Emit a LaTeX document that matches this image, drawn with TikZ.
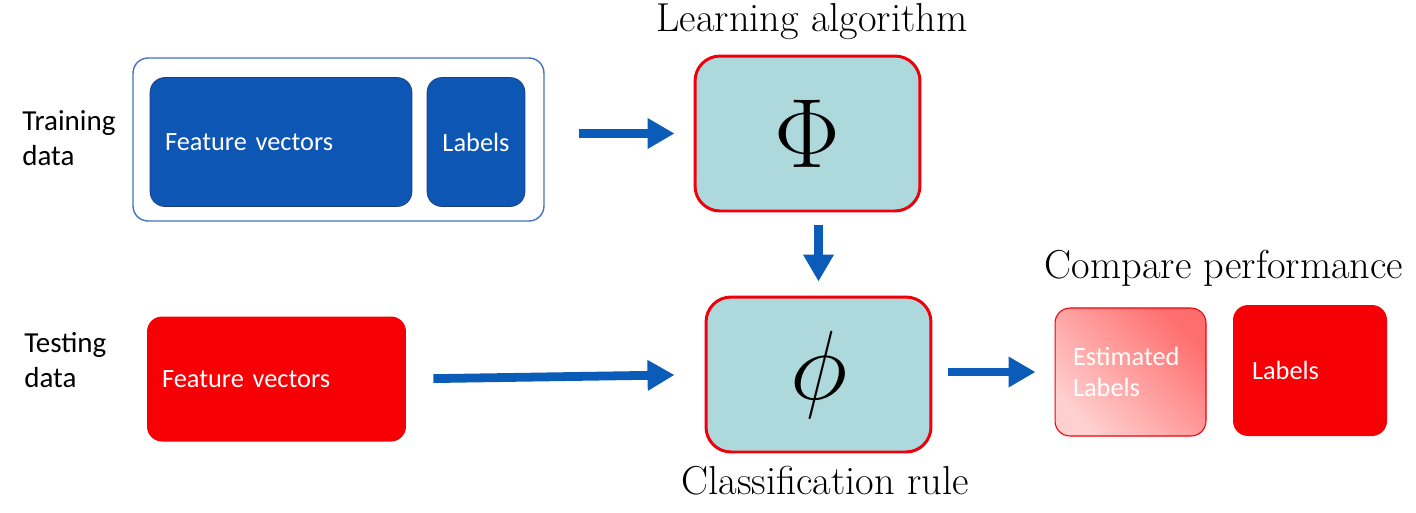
\RequirePackage{fix-cm}
\documentclass[tikz,border=0pt]{standalone}
\usepackage{fontspec}
\newfontfamily\calibri{Carlito}
\usetikzlibrary{arrows.meta}
\definecolor{featblue}{RGB}{13,86,180}
\definecolor{featedge}{RGB}{25,60,125}
\definecolor{outerblue}{RGB}{68,114,196}
\definecolor{arrowblue}{RGB}{11,92,184}
\definecolor{testred}{RGB}{247,0,5}
\definecolor{rulefill}{RGB}{173,216,220}
\definecolor{ruleedge}{RGB}{240,0,10}
\definecolor{estlight}{RGB}{255,208,208}
\definecolor{estdark}{RGB}{255,110,110}
\tikzset{
  block/.style={rounded corners=0.3cm, inner ysep=0pt, text=white,
    font=\calibri\fontsize{15}{18}\selectfont},
  algo/.style={draw=ruleedge, line width=1.7pt, fill=rulefill, rounded corners=0.5cm,
    minimum width=4.5cm, minimum height=3.1cm, inner sep=0pt, font=\fontsize{56}{60}\selectfont},
  side/.style={anchor=west, align=left, inner xsep=0pt, font=\calibri\fontsize{16.5}{19.8}\selectfont},
  title/.style={font=\fontsize{23}{27}\selectfont},
  flow/.style={arrowblue, line width=5pt, -{Triangle[length=0.54cm,width=0.58cm]}}
}
\begin{document}
\begin{tikzpicture}[x=0.02cm,y=-0.02cm]
  \useasboundingbox (0,0) rectangle (1416,512);
  % training data
  \node[side] (traintxt) at (22,138) {Training\\data};
  \node[draw=outerblue, line width=0.8pt, rounded corners=0.3cm, minimum width=8.22cm,
    minimum height=3.26cm] (trainbox) at (338.5,139.5) {};
  \node[block, fill=featblue, draw=featedge, minimum width=5.24cm, minimum height=2.58cm,
    inner xsep=0.3cm, text width=4.64cm, align=left] (featA) at (281,142) {Feature vectors};
  \node[block, fill=featblue, draw=featedge, minimum width=1.96cm, minimum height=2.58cm,
    inner xsep=0pt] (labA) at (476,142) {Labels};
  % testing data
  \node[side] (testtxt) at (24,360) {Testing\\data};
  \node[block, fill=testred, minimum width=5.18cm, minimum height=2.5cm,
    inner xsep=0.3cm, text width=4.58cm, align=left] (featB) at (276.5,379) {Feature vectors};
  % learning and rule
  \node[algo] (learn) at (807.5,133.5) {$\Phi$};
  \node[title] (learntxt) at (812,22) {Learning algorithm};
  \node[algo] (rule) at (818.5,374.5) {$\phi$};
  \node[title] (ruletxt) at (825,481) {Classification rule};
  % comparison
  \node[title] (comptxt) at (1224,268) {Compare performance};
  \node[block, draw=ruleedge, line width=0.6pt, top color=estdark, bottom color=estlight,
    shading angle=-45, minimum width=3.02cm, minimum height=2.56cm, inner xsep=0.36cm,
    text width=2.3cm, align=left] (est) at (1130.5,372) {Estimated\\Labels};
  \node[block, fill=testred, minimum width=3.08cm, minimum height=2.62cm, inner xsep=0.38cm,
    text width=2.32cm, align=left] (labB) at (1310,370.5) {Labels};
  % arrows
  \draw[flow, shorten <=0.68cm, shorten >=0.38cm] (trainbox.east |- learn.west) -- (learn.west);
  \draw[flow, shorten <=0.26cm, shorten >=0.28cm] (learn.south -| rule.north) -- (rule.north);
  \draw[flow, shorten <=0.54cm, shorten >=0.6cm] (featB.east) -- (rule.west);
  \draw[flow, shorten <=0.32cm, shorten >=0.38cm] (rule.east |- est.west) -- (est.west);
\end{tikzpicture}
\end{document}
